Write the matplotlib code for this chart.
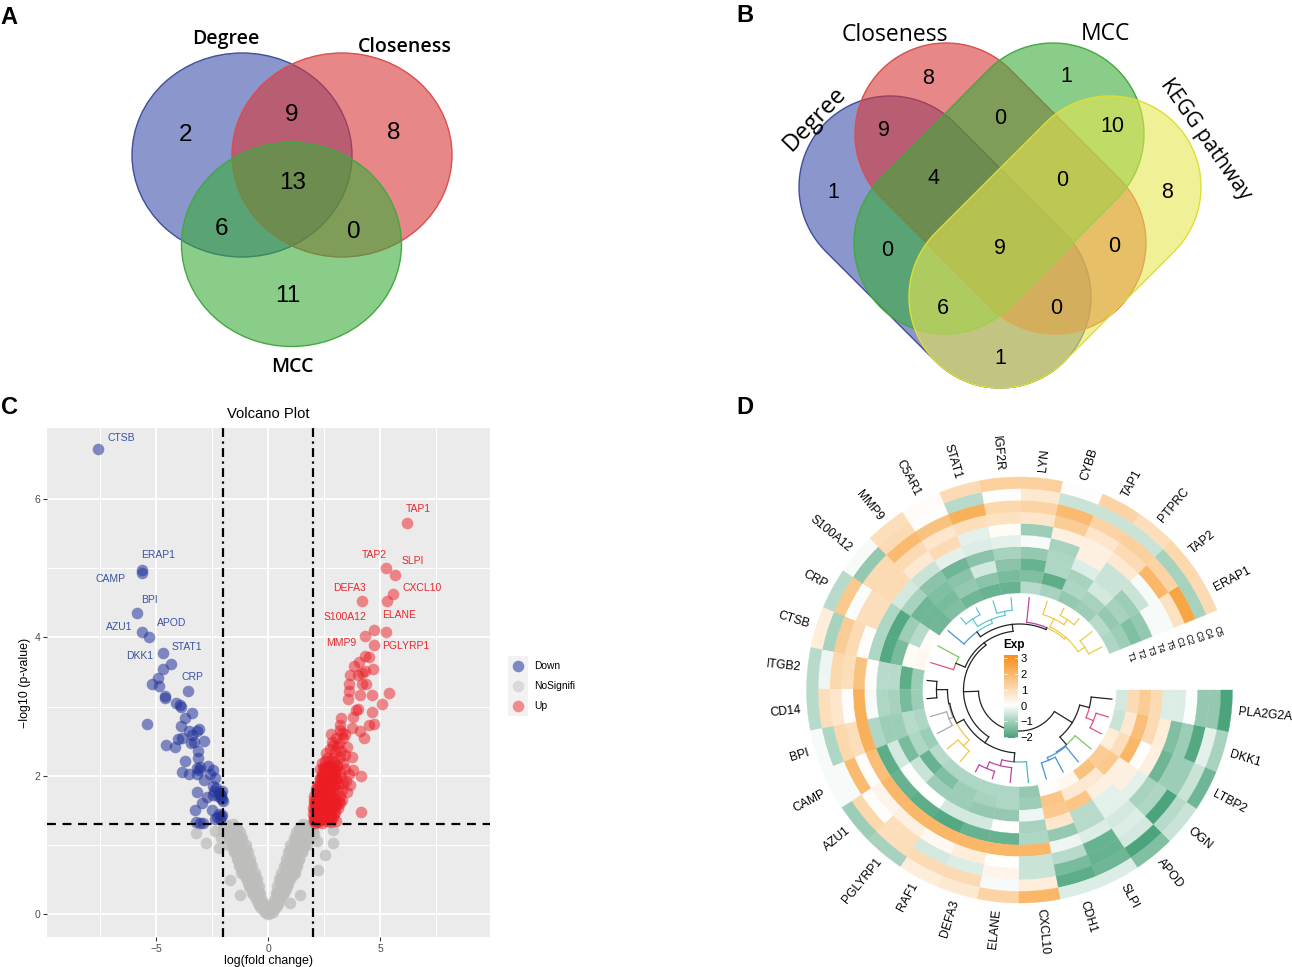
# plot.py
# Four panel figure: two Venn diagrams, a volcano plot and a circular heatmap

import numpy as np
import matplotlib
matplotlib.use("Agg")
import matplotlib.pyplot as plt
from matplotlib.colors import LinearSegmentedColormap, TwoSlopeNorm
from matplotlib.patches import Ellipse, Polygon, Rectangle

plt.rcParams["font.family"] = ["Liberation Sans", "DejaVu Sans"]

# ---------------------------------------------------------
# DATA
# ---------------------------------------------------------
venn_a_counts = ["2", "9", "8", "6", "13", "0", "11"]
venn_b_counts = ["1", "9", "8", "0", "1", "10", "4", "0", "8", "1", "9", "0", "6", "0", "0"]

down_x = [-7.59, -5.61, -5.64, -5.86, -5.64, -5.33, -4.69, -4.32, -4.71, -4.93, -5.19, -4.85, -3.57, -4.61, -4.62,
          -4.11, -3.93, -3.90, -3.38, -3.73, -5.42, -3.90, -3.07, -3.53, -3.18, -3.38, -3.85, -4.00, -3.46, -2.84,
          -3.29, -4.55, -4.15, -3.13, -3.13, -3.71, -3.18, -3.85, -3.03, -2.69, -2.48, -3.53, -3.18, -3.10, -2.58,
          -2.36, -2.88, -2.48, -2.33, -3.18, -2.74, -2.44, -2.15, -2.22, -2.07, -2.96, -2.02, -2.52, -3.26, -2.07,
          -2.30, -2.37, -3.20, -2.89, -3.02, -2.15, -2.10, -2.12, -2.20, -2.10, -2.20, -2.05, -2.40]
down_y = [6.72, 4.97, 4.93, 4.36, 4.08, 4.01, 3.77, 3.61, 3.54, 3.42, 3.32, 3.30, 3.23, 3.16, 3.12,
          3.05, 3.02, 3.00, 2.91, 2.83, 2.75, 2.72, 2.67, 2.64, 2.65, 2.59, 2.54, 2.53, 2.48, 2.50,
          2.49, 2.44, 2.42, 2.36, 2.26, 2.21, 2.11, 2.06, 2.13, 2.14, 2.08, 2.02, 2.03, 2.08, 2.03,
          1.96, 1.94, 1.85, 1.82, 1.76, 1.69, 1.72, 1.74, 1.70, 1.67, 1.61, 1.64, 1.51, 1.50, 1.43,
          1.41, 1.38, 1.33, 1.31, 1.32, 1.38, 1.72, 1.68, 1.75, 1.42, 1.44, 1.78, 1.78]

up_x = [6.21, 5.25, 5.65, 5.59, 5.33, 4.18, 4.75, 5.28, 4.35, 4.73, 4.33, 4.52, 4.08, 4.70, 3.85, 4.33, 4.18, 3.66,
        4.03, 3.63, 4.18, 4.38, 3.60, 4.11, 4.64, 5.42, 3.59, 5.10, 4.03, 3.91, 4.66, 3.78, 3.26, 4.51, 4.75, 3.21,
        3.21, 3.74, 4.11, 2.80, 4.29, 2.42, 2.59, 2.84, 3.36, 3.07, 3.51, 3.74, 3.81, 4.15, 3.66, 3.51, 3.29, 3.14,
        4.17, 3.30, 3.42, 3.05, 2.90, 3.15, 2.75, 3.00, 3.25, 2.65, 2.95, 3.20, 3.45, 2.50, 2.70, 2.85, 3.10, 3.35,
        2.40, 2.60, 2.80, 3.00, 3.20, 3.45, 3.60, 2.30, 2.45, 2.65, 2.85, 3.05, 3.25, 3.50, 2.20, 2.35, 2.55, 2.75,
        2.95, 3.15, 3.35, 2.15, 2.30, 2.50, 2.70, 2.90, 3.10, 3.30, 2.05, 2.20, 2.40, 2.60, 2.80, 3.00, 3.20, 2.05,
        2.15, 2.35, 2.55, 2.75, 2.95, 3.15, 2.02, 2.12, 2.28, 2.45, 2.65, 2.85, 3.05, 2.02, 2.12, 2.25, 2.40, 2.60,
        2.80, 3.00, 2.05, 2.18, 2.32, 2.50, 2.70, 2.90, 2.10, 2.25, 2.42, 2.62, 2.82, 3.02, 2.05, 2.20, 2.35, 2.55,
        2.75, 2.95, 2.08, 2.22, 2.45, 2.65, 2.85, 3.05, 3.22, 2.30, 2.58, 2.42, 2.68, 2.30, 2.52, 2.78, 2.40, 2.60,
        2.90, 2.34, 2.48, 2.72, 2.92, 2.56, 2.76, 2.96,
        2.03, 2.10, 2.18, 2.26, 2.34, 2.42, 2.50, 2.58, 2.66, 2.74, 2.82, 2.04, 2.12, 2.20, 2.28, 2.36, 2.44, 2.52,
        2.60, 2.68, 2.76, 2.84, 2.06, 2.14, 2.22, 2.30, 2.38, 2.46, 2.54, 2.62, 2.70, 2.78, 2.86, 2.15, 2.24, 2.33,
        2.42, 2.51, 2.60, 2.69, 2.78, 2.87, 2.96, 2.32, 2.44, 2.56, 2.68, 2.80, 2.92, 3.04, 2.45, 2.58, 2.71, 2.84,
        2.97, 3.10]
up_y = [5.66, 5.00, 4.91, 4.63, 4.53, 4.53, 4.11, 4.08, 4.02, 3.89, 3.73, 3.72, 3.65, 3.55, 3.58, 3.51, 3.48, 3.46,
        3.46, 3.33, 3.33, 3.33, 3.23, 3.17, 3.17, 3.19, 3.11, 3.04, 2.97, 2.95, 2.92, 2.85, 2.84, 2.74, 2.75, 2.73,
        2.66, 2.69, 2.65, 2.60, 2.54, 2.18, 2.33, 2.49, 2.54, 2.42, 2.42, 2.27, 2.08, 2.00, 1.87, 1.77, 1.65, 1.53,
        1.47, 2.62, 2.60, 2.55, 2.45, 2.48, 2.38, 2.35, 2.36, 2.25, 2.25, 2.27, 2.30, 2.12, 2.15, 2.14, 2.16, 2.18,
        2.02, 2.04, 2.03, 2.05, 2.06, 2.10, 2.02, 1.95, 1.94, 1.96, 1.93, 1.95, 1.97, 1.92, 1.85, 1.86, 1.84, 1.87,
        1.85, 1.88, 1.90, 1.76, 1.78, 1.75, 1.77, 1.76, 1.79, 1.80, 1.70, 1.68, 1.69, 1.67, 1.70, 1.68, 1.71, 1.60,
        1.62, 1.59, 1.61, 1.60, 1.62, 1.64, 1.53, 1.52, 1.54, 1.53, 1.51, 1.55, 1.56, 1.45, 1.44, 1.46, 1.44, 1.47,
        1.45, 1.48, 1.37, 1.36, 1.38, 1.37, 1.39, 1.40, 1.32, 1.33, 1.32, 1.34, 1.33, 1.35, 1.41, 1.42, 1.40, 1.43,
        1.41, 1.44, 1.58, 1.57, 1.58, 1.57, 1.59, 1.58, 1.60, 1.72, 1.73, 1.83, 1.82, 1.90, 1.92, 1.91, 2.00, 2.01,
        2.00, 2.10, 2.11, 2.12, 2.10, 2.22, 2.21, 2.20,
        1.34, 1.36, 1.35, 1.38, 1.36, 1.39, 1.37, 1.40, 1.38, 1.41, 1.39, 1.50, 1.52, 1.49, 1.53, 1.50, 1.54, 1.51,
        1.55, 1.52, 1.56, 1.53, 1.65, 1.67, 1.64, 1.68, 1.65, 1.69, 1.66, 1.70, 1.67, 1.71, 1.68, 1.81, 1.83, 1.80,
        1.84, 1.81, 1.85, 1.82, 1.86, 1.83, 1.87, 1.96, 1.98, 1.95, 1.99, 1.96, 2.00, 1.97, 2.08, 2.10, 2.07, 2.11,
        2.08, 2.12]

# grey points run along the two arms of the V
grey_x = [0.00, 0.08, -0.10, 0.20, -0.20, 0.30, -0.30, 0.40, -0.40, 0.50, -0.50, 0.60, -0.60, 0.70, -0.70, 0.80,
          -0.80, 0.90, -0.90, 1.00, -1.00, 1.10, -1.10, 1.20, -1.20, 1.30, -1.30, 1.40, -1.40, 1.50, -1.50, 1.60,
          -1.60, 1.70, -1.70, 1.80, -1.80, 1.95, -1.95, 0.20, -0.20, 0.40, -0.40, 0.60, -0.60, 0.80, -0.80, 1.00,
          -1.00, 1.20, -1.20, 1.40, -1.40, 1.55, -1.55, 0.25, -0.25, 0.45, -0.45, 0.65, -0.65, 0.85, -0.85, 1.05,
          -1.05, 1.25, -1.25, 1.45, -1.45, 1.65, -1.65, 1.85, -1.85, 0.35, -0.35, 0.55, -0.55, 0.75, -0.75, 0.95,
          -0.95, 1.15, -1.15, 1.35, -1.35, 1.55, -1.55, 1.75, -1.75, 1.90, -1.90,
          -3.20, -2.75, -2.20, -1.70, -1.25, 2.90, 2.90, 2.54, 2.23, 1.43, 0.98, -2.35, -2.10, 2.20, 2.05,
          0.20, 0.30, 0.40, -0.20, -0.30, -0.40, 0.35, 0.45, 0.55, 0.65, -0.35, -0.45, -0.55, -0.65,
          0.50, 0.65, 0.80, 0.95, -0.50, -0.65, -0.80, -0.95, 0.70, 0.85, 1.00, 1.15, 1.30, -0.70, -0.85, -1.00,
          -1.15, -1.30, 0.90, 1.05, 1.20, 1.35, 1.50, -0.90, -1.05, -1.20, -1.35, -1.50, 1.15, 1.30, 1.45, 1.60,
          1.75, -1.15, -1.30, -1.45, -1.60, -1.75, 1.40, 1.55, 1.70, 1.85, 2.00, -1.40, -1.55, -1.70, -1.85, -2.00,
          0.25, 0.35, 0.45, -0.25, -0.35, -0.45, 0.40, 0.55, 0.70, 0.85, -0.40, -0.55, -0.70, -0.85,
          0.60, 0.75, 0.90, 1.05, 1.20, -0.60, -0.75, -0.90, -1.05, -1.20, 0.80, 0.95, 1.10, 1.25, 1.40, -0.80,
          -0.95, -1.10, -1.25, -1.40, 1.00, 1.15, 1.30, 1.45, 1.60, 1.75, -1.00, -1.15, -1.30, -1.45, -1.60, -1.75,
          1.25, 1.40, 1.55, 1.70, 1.85, 2.00, -1.25, -1.40, -1.55, -1.70, -1.85, -2.00]
grey_y = [0.00, 0.01, 0.02, 0.03, 0.04, 0.08, 0.09, 0.12, 0.13, 0.18, 0.19, 0.24, 0.25, 0.30, 0.31, 0.36,
          0.38, 0.43, 0.45, 0.50, 0.52, 0.57, 0.59, 0.64, 0.66, 0.72, 0.74, 0.80, 0.82, 0.89, 0.91, 0.98,
          1.00, 1.05, 1.07, 1.12, 1.14, 1.22, 1.24, 0.12, 0.13, 0.30, 0.31, 0.52, 0.53, 0.72, 0.74, 0.92,
          0.94, 1.08, 1.10, 1.22, 1.24, 1.30, 1.30, 0.10, 0.11, 0.22, 0.24, 0.36, 0.38, 0.52, 0.54, 0.70,
          0.72, 0.88, 0.90, 1.04, 1.06, 1.16, 1.18, 1.28, 1.28, 0.14, 0.15, 0.30, 0.32, 0.46, 0.48, 0.64,
          0.66, 0.80, 0.82, 0.96, 0.98, 1.12, 1.14, 1.24, 1.26, 1.28, 1.28,
          1.17, 1.03, 0.95, 0.49, 0.27, 1.21, 1.03, 0.85, 0.64, 0.27, 0.16, 1.20, 1.10, 1.05, 1.15,
          0.15, 0.15, 0.15, 0.15, 0.15, 0.15, 0.30, 0.30, 0.30, 0.30, 0.30, 0.30, 0.30, 0.30,
          0.50, 0.50, 0.50, 0.50, 0.50, 0.50, 0.50, 0.50, 0.70, 0.70, 0.70, 0.70, 0.70, 0.70, 0.70, 0.70,
          0.70, 0.70, 0.90, 0.90, 0.90, 0.90, 0.90, 0.90, 0.90, 0.90, 0.90, 0.90, 1.10, 1.10, 1.10, 1.10,
          1.10, 1.10, 1.10, 1.10, 1.10, 1.10, 1.25, 1.25, 1.25, 1.25, 1.25, 1.25, 1.25, 1.25, 1.25, 1.25,
          0.20, 0.20, 0.20, 0.20, 0.20, 0.20, 0.40, 0.40, 0.40, 0.40, 0.40, 0.40, 0.40, 0.40,
          0.60, 0.60, 0.60, 0.60, 0.60, 0.60, 0.60, 0.60, 0.60, 0.60, 0.80, 0.80, 0.80, 0.80, 0.80, 0.80,
          0.80, 0.80, 0.80, 0.80, 1.00, 1.00, 1.00, 1.00, 1.00, 1.00, 1.00, 1.00, 1.00, 1.00, 1.00, 1.00,
          1.18, 1.18, 1.18, 1.18, 1.18, 1.18, 1.18, 1.18, 1.18, 1.18, 1.18, 1.18]

genes = ["ERAP1", "TAP2", "PTPRC", "TAP1", "CYBB", "LYN", "IGF2R", "STAT1", "C5AR1", "MMP9",
         "S100A12", "CRP", "CTSB", "ITGB2", "CD14", "BPI", "CAMP", "AZU1", "PGLYRP1", "RAF1",
         "DEFA3", "ELANE", "CXCL10", "CDH1", "SLPI", "APOD", "OGN", "LTBP2", "DKK1", "PLA2G2A"]
ring_names = ["T1", "T2", "T3", "T4", "T5", "C1", "C2", "C3", "C4", "C5"]

T1 = [-0.9, -0.8, -1.1, -1.2, -1.0, -0.8, -1.7, -1.7, -1.6, -1.4, -1.6, 0.1, 0.2, -1.1, -1.1,
      -0.9, -1.1, -0.8, -0.9, -0.9, -0.9, -0.9, -1.2, 0.05, 0.2, 1.7, 1.4, 0.5, -0.6, -0.5]
T2 = [-1.1, -1.2, -1.0, -0.9, -1.8, -1.4, -1.5, -1.3, -1.2, -1.5, -1.6, -0.8, 0.1, -1.8, -1.5,
      -0.8, -0.9, -1.7, -1.4, -1.1, -1.0, -0.9, -1.1, 1.6, 0.6, 0.6, 1.5, 0.9, 0.6, 1.0]
T3 = [-1.4, -1.0, -0.5, -1.0, -0.9, -1.7, -1.3, -0.5, -1.3, -1.4, -1.6, -1.1, -1.5, -0.8, -1.0,
      -1.1, -1.5, -0.6, -1.1, -1.1, -1.2, -1.2, -0.2, 1.5, 1.6, 0.4, 0.4, 2.0, 1.8, 1.4]
T4 = [-1.2, -1.1, -0.6, -0.4, -0.9, -1.2, -1.0, -1.3, -1.6, -1.3, -1.0, -1.9, -1.9, -0.8, -0.9,
      -1.1, -0.5, -0.05, 0.0, -0.5, -0.5, 0.0, -1.0, 0.7, -0.8, -0.3, 0.4, 0.05, 1.0, 1.0]
T5 = [-0.1, -0.6, -0.6, 0.4, -1.0, -0.1, -0.3, -0.4, -0.3, -0.6, -0.5, -0.9, -0.9, 0.05, -0.1,
      -0.9, -1.8, -1.7, -1.8, -1.9, -1.7, -1.7, -0.9, -1.2, -0.8, -0.3, -0.3, 0.4, 0.5, -0.4]
C1 = [-0.1, -0.1, 0.6, 0.4, 0.4, -1.1, 0.1, -0.3, 1.0, 0.6, 1.0, 0.9, 0.05, 1.7, 2.2,
      2.2, 1.8, 2.0, 2.0, 2.0, 2.0, 2.0, 2.0, -0.2, -0.4, -0.5, -1.0, -1.6, -1.4, -0.4]
C2 = [0.8, 2.0, 1.0, 0.7, 1.4, 0.7, 0.8, 0.9, 0.7, 1.0, 1.0, 0.9, 1.0, 0.9, 0.05,
      0.9, 0.05, 0.3, 0.4, 0.2, 0.5, 0.0, -0.6, -0.8, -1.7, -0.4, -0.9, -1.1, -1.1, -0.05]
C3 = [2.5, 1.2, 1.3, 1.2, 1.9, 1.2, 1.1, 2.2, 1.7, 1.9, 1.0, -0.05, 1.4, 1.1, 0.7,
      1.1, 1.9, 0.05, 0.9, -0.5, -0.4, 0.3, -0.6, -1.5, -1.7, -0.5, -2.0, -1.1, -1.9, -1.2]
C4 = [-1.0, -1.0, -0.6, -0.6, -0.6, 0.6, 0.05, -0.8, 0.05, 1.0, -1.2, 1.5, -1.0, -0.2, 0.9,
      -0.9, -0.1, 1.1, 0.9, 1.0, 1.0, -0.1, 0.5, -1.8, -1.6, -2.0, -0.8, -0.6, -0.3, -1.2]
C5 = [1.0, 1.1, 0.9, 1.2, 0.05, 1.3, 1.3, 1.0, 0.1, 0.9, -0.1, -0.8, 0.5, -0.8, -0.8,
      -0.1, -0.1, -1.1, -1.0, 0.5, 0.6, 1.2, 2.0, -0.4, -0.4, -1.4, -0.6, -1.6, -1.0, -2.0]
heat_rows = [T1, T2, T3, T4, T5, C1, C2, C3, C4, C5]

# merge radius and children, leaves are gene positions
tree_left_top = [66, [[68, [[70, [[78, [0, 1]], [79, [[85, [2, 3]], 4]]]], 5]],
                      [72, [[76, [[80, [6, 7]], [85, [8, 9]]]], 10]]]]
tree_upper = [59, [tree_left_top, [69, [11, 12]]]]
tree_low_left = [71, [[72, [[83, [13, 14]], [76, [15, 16]]]], [79, [17, 18]]]]
tree_lower = [63, [tree_low_left, [72, [[78, [[85, [19, 20]], 21]], 22]]]]
tree_left = [56, [tree_upper, tree_lower]]
tree_right = [62, [[72, [[73, [[76, [23, 24]], 25]], 26]], [72, [[80, [27, 28]], 29]]]]
tree_root = [41, [tree_left, tree_right]]

leaf_colors = ["#EFCB4A"] * 5 + ["#B8469E"] + ["#63C6D0"] * 4 + ["#4A90D9", "#7EC56A", "#E0557B",
               "#222222", "#222222", "#AAAAAA", "#AAAAAA", "#EFCB4A", "#EFCB4A", "#B8469E", "#B8469E", "#B8469E",
               "#4FB8B8", "#4A90D9", "#4A90D9", "#4A90D9", "#7EC56A", "#E0557B", "#E0557B", "#222222"]

# ---------------------------------------------------------
# FIGURE AND PIXEL OVERLAY
# ---------------------------------------------------------
W, H = 1292, 967
fig = plt.figure(figsize=(W / 100, H / 100), dpi=100, facecolor="white")


def box(left, top, right, bottom):
    return [left / W, 1 - bottom / H, (right - left) / W, (bottom - top) / H]


ov = fig.add_axes([0, 0, 1, 1], zorder=1)
ov.set_xlim(0, W)
ov.set_ylim(H, 0)
ov.axis("off")
ov.patch.set_alpha(0)

BLUE, RED, GREEN, YELLOW = "#3C50AA", "#DA3737", "#3AAC3A", "#E6E650"
EDGES = {BLUE: "#3F4E9E", RED: "#D94E4E", GREEN: "#43A843", YELLOW: "#DEDE35"}

for letter, x, y in [("A", 9, 18), ("B", 745, 15), ("C", 10, 408), ("D", 745, 408)]:
    ov.text(x, y, letter, fontsize=17, fontweight="bold", ha="center", va="center")

# ---------------------------------------------------------
# PANEL A
# ---------------------------------------------------------
for (cx, cy), col in [((242, 155), BLUE), ((342, 155), RED), ((291.5, 244.5), GREEN)]:
    ov.add_patch(Ellipse((cx, cy), 220, 204, facecolor=col, alpha=0.6, edgecolor="none"))
    ov.add_patch(Ellipse((cx, cy), 220, 204, facecolor="none", edgecolor=EDGES[col], lw=1))

pos_a = [(185, 135), (292, 115), (394, 133), (221, 229), (293, 183), (354, 232), (288, 296)]
for txt, (x, y) in zip(venn_a_counts, pos_a):
    ov.text(x, y, txt, fontsize=17.5, ha="center", va="center")
for txt, x, y in [("Degree", 226, 39), ("Closeness", 405, 47), ("MCC", 292, 367)]:
    ov.text(x, y, txt, fontsize=14, family="Open Sans", fontweight="semibold", ha="center", va="center",
            fontstretch="condensed")

# ---------------------------------------------------------
# PANEL B
# ---------------------------------------------------------


def stadium(p0, p1, r):
    # outline of a rounded bar between two cap centres
    ang = np.arctan2(p1[1] - p0[1], p1[0] - p0[0])
    t0 = np.linspace(ang + np.pi / 2, ang + 3 * np.pi / 2, 60)
    t1 = np.linspace(ang - np.pi / 2, ang + np.pi / 2, 60)
    xs = np.r_[p0[0] + r * np.cos(t0), p1[0] + r * np.cos(t1)]
    ys = np.r_[p0[1] + r * np.sin(t0), p1[1] + r * np.sin(t1)]
    return np.c_[xs, ys]


shapes = [((890, 187), (1000, 297), BLUE), ((946, 134), (1055, 243), RED),
          ((1053, 134), (945, 243), GREEN), ((1110, 187), (1000, 297), YELLOW)]
for p0, p1, col in shapes:
    outline = stadium(p0, p1, 91)
    ov.add_patch(Polygon(outline, closed=True, facecolor=col, alpha=0.6, edgecolor="none"))
    ov.add_patch(Polygon(outline, closed=True, facecolor="none", edgecolor=EDGES[col], lw=1))

pos_b = [(833, 193), (884, 131), (928, 79), (887, 250), (1000, 359), (1112, 127), (934, 179), (1000, 119),
         (1167, 193), (1066, 76), (1000, 248), (1062, 180), (943, 308), (1056, 308), (1114, 247)]
for txt, (x, y) in zip(venn_b_counts, pos_b):
    ov.text(x, y, txt, fontsize=15.5, ha="center", va="center")
ov.text(895, 35, "Closeness", fontsize=16.5, family="Open Sans", ha="center", va="center")
ov.text(1105, 34, "MCC", fontsize=16.5, family="Open Sans", ha="center", va="center")
ov.text(815, 119, "Degree", fontsize=17, family="Open Sans", rotation=46, ha="center", va="center")
ov.text(1206, 139, "KEGG pathway", fontsize=15, family="Open Sans", rotation=-55, ha="center", va="center")

# ---------------------------------------------------------
# PANEL C
# ---------------------------------------------------------
ax = fig.add_axes(box(47, 428, 490, 937), zorder=2)
ax.set_facecolor("#EBEBEB")
for s in ax.spines.values():
    s.set_visible(False)
ax.set_xlim(-9.87, 9.91)
ax.set_ylim(-0.333, 7.03)
ax.set_xticks([-5, 0, 5])
ax.set_yticks([0, 2, 4, 6])
ax.set_xticks([-7.5, -2.5, 2.5, 7.5], minor=True)
ax.set_yticks([1, 3, 5], minor=True)
ax.grid(which="major", color="white", lw=1.3)
ax.grid(which="minor", color="white", lw=0.7)
ax.set_axisbelow(True)
ax.tick_params(which="minor", length=0)
ax.tick_params(which="major", length=3, width=0.8, color="#333333", labelsize=7.5, labelcolor="#4D4D4D", pad=2)

ax.scatter(grey_x, grey_y, s=70, color="#BDBDBB", alpha=0.75, linewidths=0)
ax.scatter(down_x, down_y, s=70, color="#23349B", alpha=0.55, linewidths=0)
ax.scatter(up_x, up_y, s=70, color="#EC1C24", alpha=0.5, linewidths=0)

ax.axhline(1.3, color="black", lw=1.6, ls=(0, (4, 3)))
ax.axvline(-2, color="black", lw=1.6, ls=(0, (4, 2, 1, 2)))
ax.axvline(2, color="black", lw=1.6, ls=(0, (4, 2, 1, 2)))

ax.set_title("Volcano Plot", fontsize=10.6, pad=7, x=0.5)
ax.set_xlabel("log(fold change)", fontsize=8.9, labelpad=1)
ax.set_ylabel("\u2212log10 (p-value)", fontsize=8.9, labelpad=2)

labels_down = [("CTSB", 121, 438), ("ERAP1", 158, 555), ("CAMP", 110, 579), ("BPI", 149, 600), ("AZU1", 119, 627),
               ("APOD", 172, 623), ("STAT1", 187, 647), ("DKK1", 140, 656), ("CRP", 192, 677)]
labels_up = [("TAP1", 418, 509), ("TAP2", 374, 555), ("SLPI", 413, 561), ("DEFA3", 350, 588), ("CXCL10", 422, 588),
             ("S100A12", 345, 617), ("ELANE", 399, 615), ("MMP9", 341, 643), ("PGLYRP1", 406, 646)]
top = fig.add_axes([0, 0, 1, 1], zorder=3)
top.set_xlim(0, W)
top.set_ylim(H, 0)
top.axis("off")
top.patch.set_alpha(0)
for txt, x, y in labels_down:
    top.text(x, y, txt, fontsize=7.5, color="#3A53A4", ha="center", va="center")
for txt, x, y in labels_up:
    top.text(x, y, txt, fontsize=7.5, color="#E9272B", ha="center", va="center")

top.add_patch(Rectangle((508, 656), 20, 60, facecolor="#F2F2F2", edgecolor="none"))
for name, col, y in [("Down", "#8088C4", 666), ("NoSignifi", "#D9D9D9", 686), ("Up", "#F08A8C", 706)]:
    top.scatter([518], [y], s=70, color=col, linewidths=0)
    top.text(534, y, name, fontsize=7.4, ha="left", va="center")

# ---------------------------------------------------------
# PANEL D
# ---------------------------------------------------------
CX, CY, RMAX = 1019.5, 690, 272
pol = fig.add_axes(box(CX - RMAX, CY - RMAX, CX + RMAX, CY + RMAX), projection="polar", zorder=2)
pol.set_ylim(0, RMAX)
pol.axis("off")
pol.patch.set_alpha(0)

heat_cmap = LinearSegmentedColormap.from_list("exp", ["#4CA47C", "#FFFFFF", "#F7931E"])
heat_norm = TwoSlopeNorm(vcenter=0, vmin=-2, vmax=3)
R0, RW = 97, 11.6
START = np.deg2rad(22)
STEP = np.deg2rad(338 / len(genes))
centers = START + STEP * (np.arange(len(genes)) + 0.5)

for i, row in enumerate(heat_rows):
    cols = [heat_cmap(heat_norm(v)) for v in row]
    pol.bar(centers, RW, width=STEP, bottom=R0 + i * RW, color=cols, edgecolor=cols, linewidth=0.25)

for name, th in zip(genes, centers):
    deg = np.rad2deg(th)
    flip = 90 < deg < 270
    pol.text(th, R0 + 10 * RW + 7, name, fontsize=8.7, rotation=deg + 180 if flip else deg,
             rotation_mode="anchor", ha="right" if flip else "left", va="center")

for i, name in enumerate(ring_names):
    pol.text(np.deg2rad(16.5), 116.5 + i * 10.05, name, fontsize=6.6, rotation=-70,
             rotation_mode="anchor", ha="center", va="center")


def draw_tree(node):
    # returns angle, radius and colour of a node
    if not isinstance(node, list):
        return centers[node], 93, leaf_colors[node]
    r, kids = node
    parts = [draw_tree(k) for k in kids]
    mid = (parts[0][0] + parts[-1][0]) / 2
    shades = {p[2] for p in parts}
    col = shades.pop() if len(shades) == 1 else "#222222"
    for th, rk, c in parts:
        pol.plot([th, th], [rk, r], color=c, lw=0.9, solid_capstyle="round")
        pol.plot(np.linspace(th, mid, 30), np.full(30, r), color=c, lw=0.9)
    return mid, r, col


draw_tree(tree_root)

cbar = fig.add_axes(box(1004, 655, 1018, 738), zorder=4)
grad = np.linspace(3.2, -2.05, 200).reshape(-1, 1)
cbar.imshow(grad, aspect="auto", cmap=heat_cmap, norm=heat_norm, extent=[0, 1, -2.05, 3.2])
cbar.set_xticks([])
cbar.yaxis.tick_right()
cbar.set_yticks([-2, -1, 0, 1, 2, 3])
cbar.set_yticklabels(["\u22122", "\u22121", "0", "1", "2", "3"], fontsize=8)
cbar.tick_params(axis="y", length=0, pad=2)
for s in cbar.spines.values():
    s.set_visible(False)
for v in [-2, -1, 0, 1, 2, 3]:
    cbar.plot([0, 0.2], [v, v], color="white", lw=0.5)
    cbar.plot([0.8, 1], [v, v], color="white", lw=0.5)
cbar.set_xlim(0, 1)
top.text(1014, 645, "Exp", fontsize=8.5, fontweight="bold", ha="center", va="center")

fig.savefig("out.png", dpi=100)
